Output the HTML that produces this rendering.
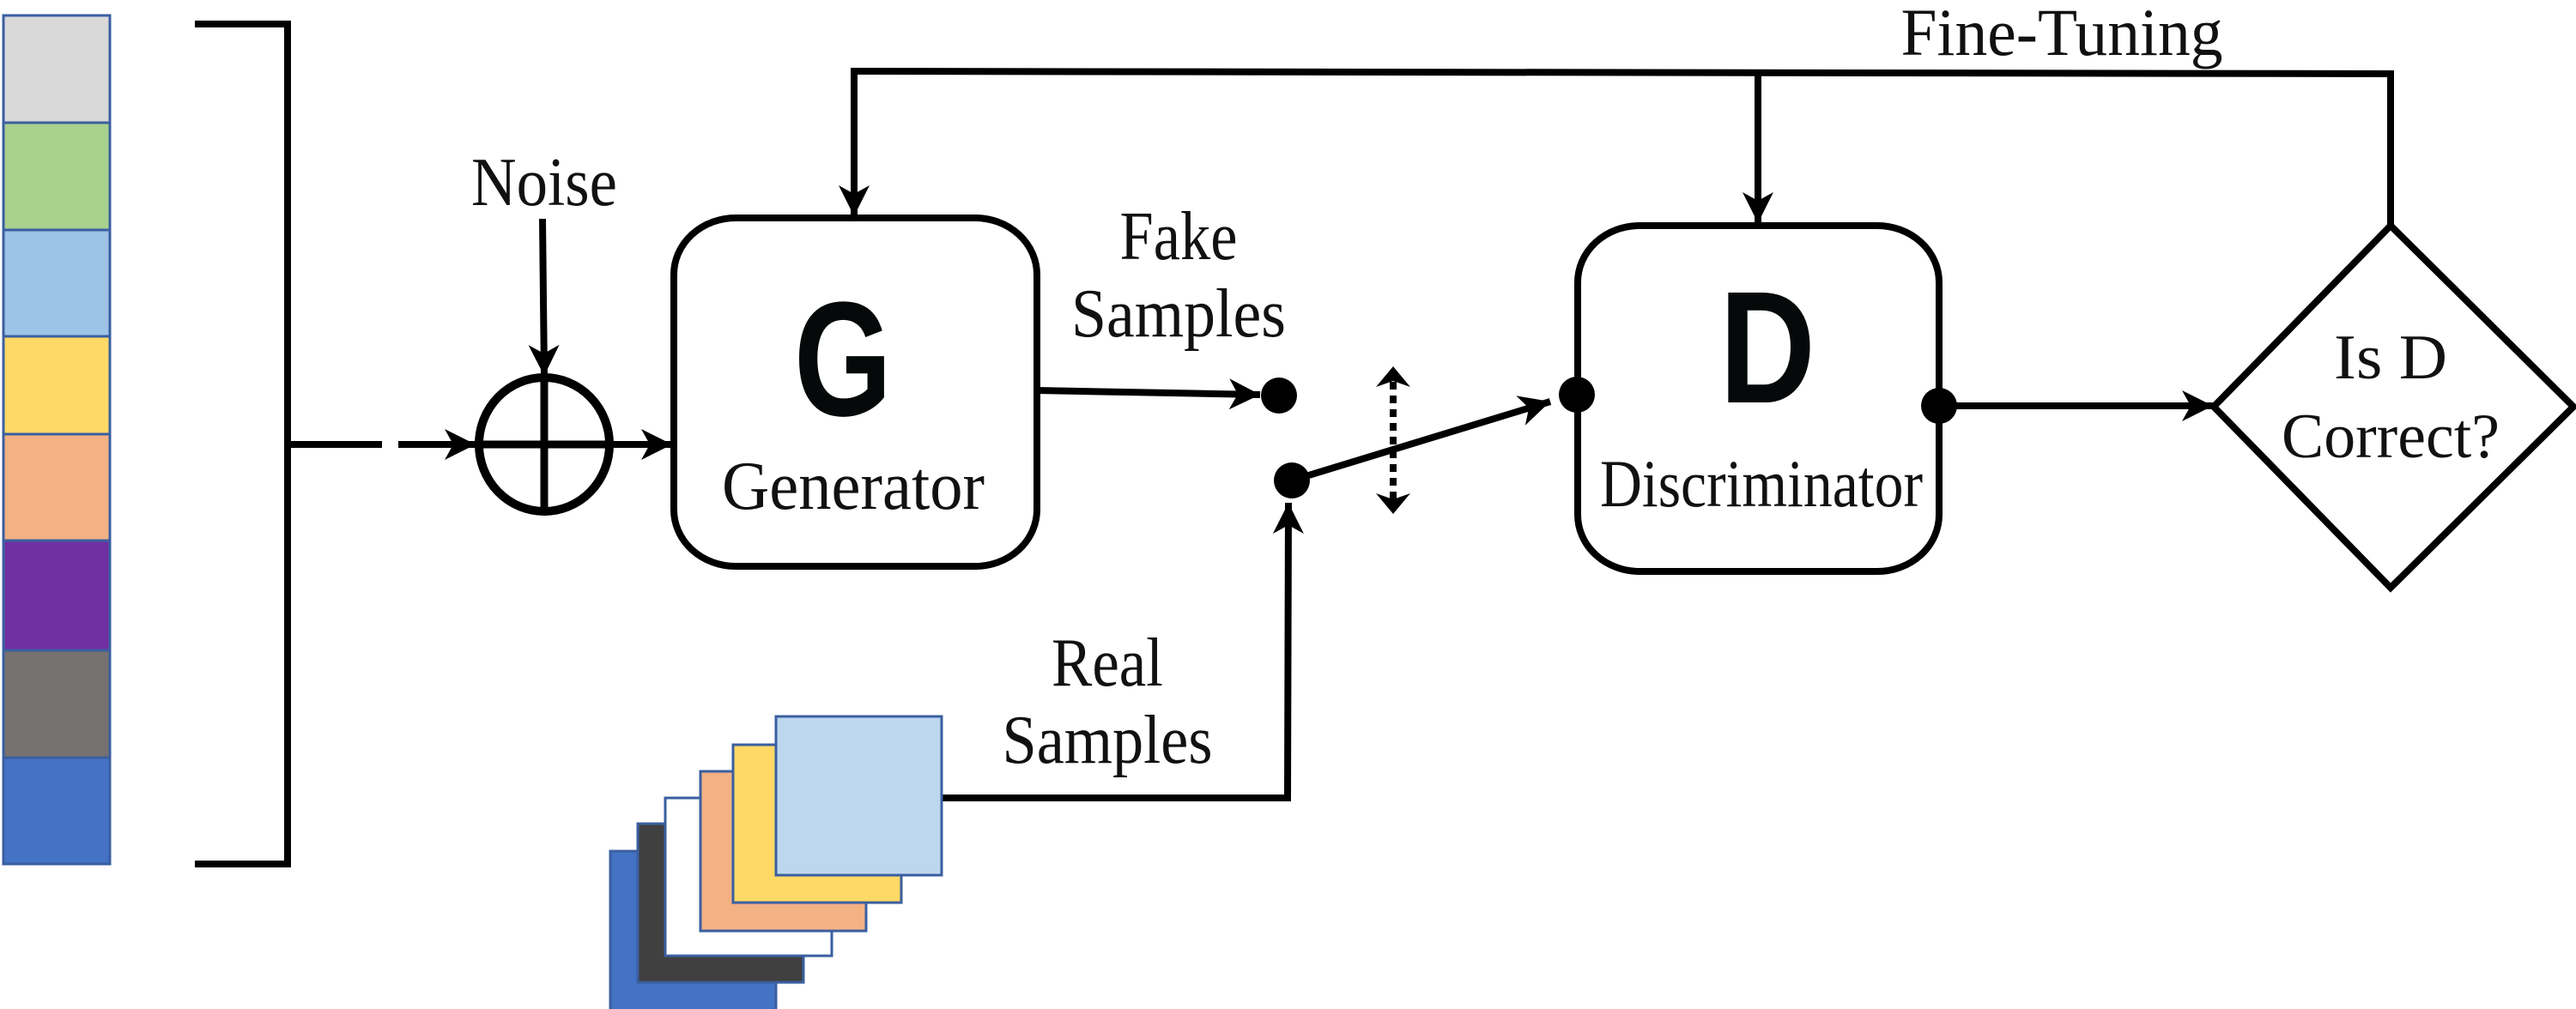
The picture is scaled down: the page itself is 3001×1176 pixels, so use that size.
<!DOCTYPE html>
<html><head><meta charset="utf-8"><style>
html,body{margin:0;padding:0;background:#fff;width:3001px;height:1176px;overflow:hidden}
svg{display:block}
.t{font-family:"Liberation Serif",serif;fill:#111}
.s{font-family:"Liberation Sans",sans-serif;font-weight:bold;fill:#060909}
</style></head><body>
<svg width="3001" height="1176" viewBox="0 0 3001 1176" xmlns="http://www.w3.org/2000/svg">
<defs>
<marker id="a" markerUnits="userSpaceOnUse" markerWidth="50" markerHeight="50" refX="36" refY="20" orient="auto">
<path d="M0,2 L36,20 L0,38 L10,20 Z" fill="#000"/>
</marker>
</defs>
<g stroke="#3a5fa0" stroke-width="3">
<rect x="4" y="18" width="124" height="125" fill="#d9d9d9"/>
<rect x="4" y="143" width="124" height="125" fill="#a9d18e"/>
<rect x="4" y="268" width="124" height="124" fill="#9dc3e6"/>
<rect x="4" y="392" width="124" height="114" fill="#ffd966"/>
<rect x="4" y="506" width="124" height="124" fill="#f4b183"/>
<rect x="4" y="630" width="124" height="128" fill="#7030a0"/>
<rect x="4" y="758" width="124" height="125" fill="#767171"/>
<rect x="4" y="883" width="124" height="124" fill="#4472c4"/>
</g>
<path d="M227,28 H335 V1007 H227" fill="none" stroke="#000" stroke-width="8"/>
<line x1="335" y1="518" x2="445" y2="518" stroke="#000" stroke-width="8"/>
<line x1="464" y1="518" x2="554" y2="518" stroke="#000" stroke-width="8" marker-end="url(#a)"/>
<ellipse cx="634" cy="518" rx="76" ry="78" fill="none" stroke="#000" stroke-width="10"/>
<line x1="556" y1="518" x2="712" y2="518" stroke="#000" stroke-width="9"/>
<line x1="634" y1="440" x2="634" y2="596" stroke="#000" stroke-width="9"/>
<text class="t" x="634" y="239" font-size="80" text-anchor="middle" textLength="170" lengthAdjust="spacingAndGlyphs">Noise</text>
<line x1="632" y1="255" x2="634" y2="438" stroke="#000" stroke-width="8" marker-end="url(#a)"/>
<line x1="712" y1="518" x2="783" y2="518" stroke="#000" stroke-width="8" marker-end="url(#a)"/>
<rect x="785" y="254" width="423" height="406" rx="72" ry="66" fill="#fff" stroke="#000" stroke-width="8"/>
<text class="s" x="982" y="484" font-size="190" text-anchor="middle" textLength="114" lengthAdjust="spacingAndGlyphs">G</text>
<text class="t" x="994" y="593" font-size="80" text-anchor="middle" textLength="306" lengthAdjust="spacingAndGlyphs">Generator</text>
<text class="t" x="1373" y="302" font-size="80" text-anchor="middle" textLength="137" lengthAdjust="spacingAndGlyphs">Fake</text>
<text class="t" x="1373" y="392" font-size="80" text-anchor="middle" textLength="250" lengthAdjust="spacingAndGlyphs">Samples</text>
<line x1="1208" y1="455" x2="1468" y2="460" stroke="#000" stroke-width="8" marker-end="url(#a)"/>
<circle cx="1490" cy="461" r="21" fill="#000"/>
<circle cx="1505" cy="560" r="21" fill="#000"/>
<polyline points="1097,930 1500,930 1501,586" fill="none" stroke="#000" stroke-width="8" marker-end="url(#a)"/>
<text class="t" x="1290" y="799" font-size="80" text-anchor="middle" textLength="130" lengthAdjust="spacingAndGlyphs">Real</text>
<text class="t" x="1290" y="889" font-size="80" text-anchor="middle" textLength="245" lengthAdjust="spacingAndGlyphs">Samples</text>
<g stroke="#3a5fa0" stroke-width="3">
<rect x="711" y="992" width="193" height="186" fill="#4472c4"/>
<rect x="743" y="960" width="193" height="185" fill="#404040"/>
<rect x="775" y="930" width="194" height="184" fill="#fff"/>
<rect x="816" y="899" width="193" height="186" fill="#f4b183"/>
<rect x="854" y="868" width="196" height="184" fill="#ffd966"/>
<rect x="904" y="835" width="193" height="185" fill="#bdd7ee"/>
</g>
<line x1="1505" y1="560" x2="1806" y2="468" stroke="#000" stroke-width="8" marker-end="url(#a)"/>
<line x1="1623" y1="445" x2="1623" y2="582" stroke="#000" stroke-width="8" stroke-dasharray="9,7"/>
<path d="M1623,427 L1603,451 L1623,444 L1643,451 Z" fill="#000"/>
<path d="M1623,599 L1603,575 L1623,582 L1643,575 Z" fill="#000"/>
<rect x="1838" y="263" width="421" height="403" rx="72" ry="66" fill="#fff" stroke="#000" stroke-width="8"/>
<text class="s" x="2059" y="469" font-size="186" text-anchor="middle" textLength="112" lengthAdjust="spacingAndGlyphs">D</text>
<text class="t" x="2052" y="590" font-size="78" text-anchor="middle" textLength="376" lengthAdjust="spacingAndGlyphs">Discriminator</text>
<circle cx="1837" cy="460" r="21" fill="#000"/>
<circle cx="2259" cy="473" r="21" fill="#000"/>
<line x1="2259" y1="473" x2="2578" y2="473" stroke="#000" stroke-width="8" marker-end="url(#a)"/>
<polygon points="2785,263 2998,474 2785,685 2579,474" fill="#fff" stroke="#000" stroke-width="8"/>
<text class="t" x="2785" y="441" font-size="74" text-anchor="middle" textLength="132" lengthAdjust="spacingAndGlyphs">Is D</text>
<text class="t" x="2785" y="533" font-size="74" text-anchor="middle" textLength="254" lengthAdjust="spacingAndGlyphs">Correct?</text>
<polyline points="2785,263 2785,86 995,83 995,252" fill="none" stroke="#000" stroke-width="8" marker-end="url(#a)"/>
<line x1="2048" y1="84" x2="2048" y2="260" stroke="#000" stroke-width="8" marker-end="url(#a)"/>
<text class="t" x="2402" y="64" font-size="78" text-anchor="middle" textLength="375" lengthAdjust="spacingAndGlyphs">Fine-Tuning</text>
</svg>
</body></html>
